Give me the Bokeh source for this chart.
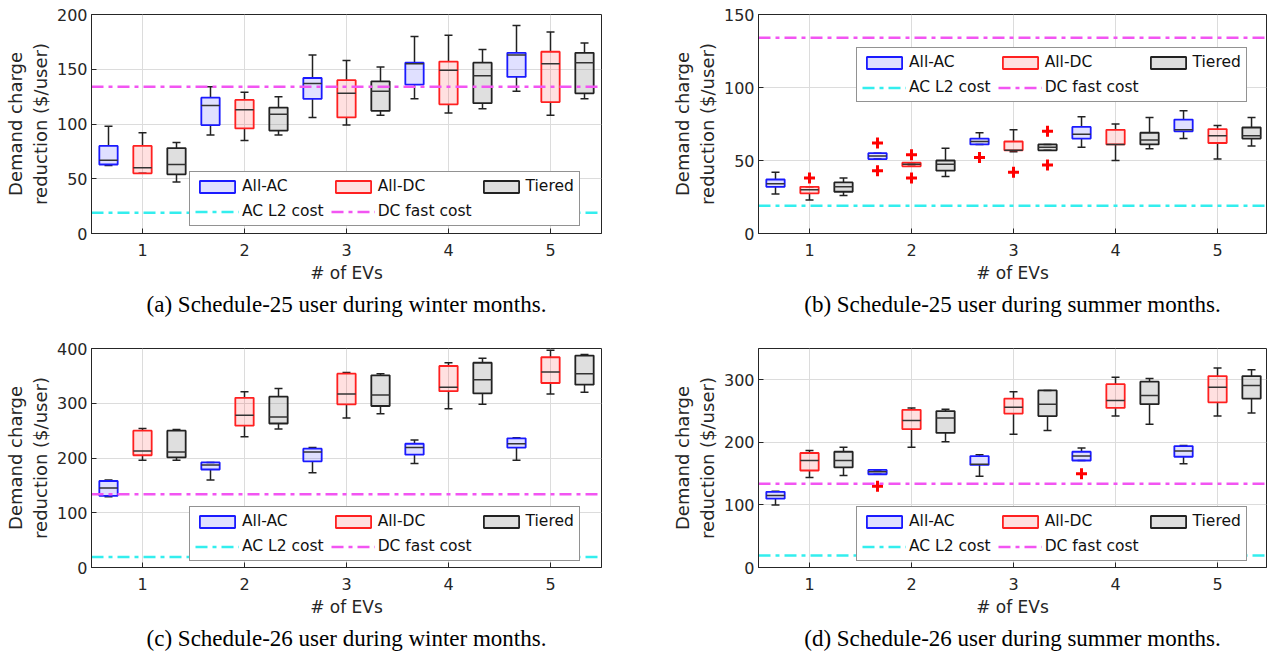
from bokeh.plotting import figure
from bokeh.models import Legend, LegendItem, FixedTicker, Range1d, ColumnDataSource
from bokeh.layouts import column, row
from bokeh.embed import file_html
from bokeh.resources import INLINE

n_evs = [1, 2, 3, 4, 5]
series_names = ["All-AC", "All-DC", "Tiered"]
ac_l2_cost = 19
dc_fast_cost = 134

# (a) Schedule-25 winter
a_ac_lo = [62, 90, 106, 123, 130]
a_ac_q1 = [63, 99, 123, 136, 143]
a_ac_med = [67, 117, 137, 155, 163]
a_ac_q3 = [80, 124, 142, 156, 165]
a_ac_hi = [98, 134, 163, 180, 190]
a_dc_lo = [55, 85, 99, 110, 108]
a_dc_q1 = [55, 96, 106, 118, 120]
a_dc_med = [60, 113, 128, 149, 155]
a_dc_q3 = [80, 122, 140, 157, 166]
a_dc_hi = [92, 129, 158, 181, 184]
a_ti_lo = [47, 90, 108, 114, 123]
a_ti_q1 = [54, 94, 112, 119, 128]
a_ti_med = [63, 109, 130, 144, 156]
a_ti_q3 = [78, 115, 139, 156, 165]
a_ti_hi = [83, 125, 152, 168, 174]

# (b) Schedule-25 summer
b_ac_lo = [27, 51, 61, 59, 65]
b_ac_q1 = [32, 51, 61, 65, 70]
b_ac_med = [34, 53, 63, 68, 71]
b_ac_q3 = [37, 55, 65, 73, 78]
b_ac_hi = [42, 55, 69, 80, 84]
b_dc_lo = [23, 46, 56, 50, 51]
b_dc_q1 = [27.5, 46, 57, 61, 62]
b_dc_med = [30, 47.5, 57, 61, 67]
b_dc_q3 = [32, 48.5, 63, 71, 71.5]
b_dc_hi = [32, 48.5, 71, 75, 74]
b_ti_lo = [26, 39, 57, 58, 60]
b_ti_q1 = [28.6, 43, 57, 61, 65]
b_ti_med = [32, 47.4, 59, 64, 67]
b_ti_q3 = [35, 50, 61, 69, 72.6]
b_ti_hi = [38, 58.4, 61, 79.5, 79.5]
b_out_n = [1, 2, 2, 2, 2, 3, 3, 3, 3]
b_out_s = [1, 0, 0, 1, 1, 0, 1, 2, 2]
b_out_v = [38, 62, 43, 54, 38, 52, 42, 70, 47]

# (c) Schedule-26 winter
c_ac_lo = [129, 160, 173, 190, 196]
c_ac_q1 = [131, 179, 194, 206, 219]
c_ac_med = [145, 187, 211, 219, 226]
c_ac_q3 = [158, 192, 217, 226, 236]
c_ac_hi = [160, 192, 219, 233, 237]
c_dc_lo = [196, 239, 273, 290, 317]
c_dc_q1 = [205, 259, 298, 322, 337]
c_dc_med = [213, 278, 317, 329, 357]
c_dc_q3 = [250, 310, 354, 368, 384]
c_dc_hi = [254, 321, 356, 374, 397]
c_ti_lo = [196, 253, 281, 298, 320]
c_ti_q1 = [201, 263, 295, 318, 334]
c_ti_med = [211, 275, 315, 343, 354]
c_ti_q3 = [250, 312, 351, 374, 387]
c_ti_hi = [252, 327, 354, 382, 389]

# (d) Schedule-26 summer
d_ac_lo = [100, 149, 146, 171, 166]
d_ac_q1 = [110, 149, 164, 171, 177]
d_ac_med = [115, 153, 165, 178, 186]
d_ac_q3 = [121, 156, 178, 185, 194]
d_ac_hi = [122, 156, 180, 191, 195]
d_dc_lo = [144, 192, 213, 242, 242]
d_dc_q1 = [155, 221, 246, 255, 264]
d_dc_med = [171, 235, 256, 267, 288]
d_dc_q3 = [183, 252, 270, 293, 306]
d_dc_hi = [187, 255, 281, 304, 319]
d_ti_lo = [147, 201, 219, 229, 247]
d_ti_q1 = [160, 215, 242, 261, 270]
d_ti_med = [171, 239, 261, 275, 291]
d_ti_q3 = [185, 250, 283, 297, 306]
d_ti_hi = [192, 253, 283, 302, 316]
d_out_n = [2, 4]
d_out_s = [0, 0]
d_out_v = [130, 150]

OFFSETS = [-1 / 3, 0, 1 / 3]
BOX_W = 0.18
EDGE = ["#1a1aff", "#ff2020", "#222222"]
FILL = ["#0000ff", "#ff0000", "#808080"]
FILL_ALPHA = [0.12, 0.12, 0.25]
AX_COLOR = "#262626"
SANS = "DejaVu Sans"


def make_panel(stats, out, y_end, y_ticks, caption, left_col, top_row, legend_xy):
    if left_col:
        x_end, fw, mbl, mbr = 5.5, 510, 91, 32
    else:
        x_end, fw, mbl, mbr = 5.48, 508, 125, 1
    if top_row:
        mbt, mbb = 14, 98
    else:
        mbt, mbb = 17, 95
    p = figure(frame_width=fw, frame_height=219, x_range=Range1d(0.5, x_end),
               y_range=Range1d(0, y_end), output_backend="svg", toolbar_location=None,
               min_border_left=mbl, min_border_right=mbr, min_border_top=mbt,
               min_border_bottom=mbb, title_location="below", background_fill_color="white",
               border_fill_color="white")
    p.outline_line_color = AX_COLOR
    p.outline_line_width = 1
    p.xaxis.ticker = FixedTicker(ticks=n_evs)
    p.yaxis.ticker = FixedTicker(ticks=y_ticks)
    p.xaxis.axis_label = "# of EVs"
    p.yaxis.axis_label = "Demand charge\nreduction ($/user)"
    for ax in [p.xaxis[0], p.yaxis[0]]:
        ax.major_tick_in = 5
        ax.major_tick_out = 0
        ax.minor_tick_line_color = None
        ax.axis_line_color = AX_COLOR
        ax.major_tick_line_color = AX_COLOR
        ax.major_label_text_font = SANS
        ax.major_label_text_font_size = "16px"
        ax.major_label_text_color = AX_COLOR
        ax.axis_label_text_font = SANS
        ax.axis_label_text_font_style = "normal"
        ax.axis_label_text_color = AX_COLOR
    p.xaxis.axis_label_text_font_size = "17px"
    p.yaxis.axis_label_text_font_size = "18px"
    p.xaxis.major_label_standoff = 10
    p.xaxis.axis_label_standoff = 4
    p.yaxis.major_label_standoff = 4
    p.yaxis.axis_label_standoff = 3
    p.xgrid.ticker = FixedTicker(ticks=n_evs)
    p.ygrid.ticker = FixedTicker(ticks=y_ticks)
    p.grid.grid_line_color = "#dcdcdc"
    p.grid.grid_line_width = 1

    box_renderers = []
    for s in range(3):
        lo, q1, med, q3, hi = stats[s]
        xs = [n + OFFSETS[s] for n in n_evs]
        src = ColumnDataSource(dict(x=xs, lo=lo, q1=q1, med=med, q3=q3, hi=hi,
                                    xl=[x - BOX_W / 2 for x in xs],
                                    xr=[x + BOX_W / 2 for x in xs]))
        p.segment(x0="x", y0="q3", x1="x", y1="hi", source=src, line_color="#222222",
                  line_width=1.5)
        p.segment(x0="x", y0="lo", x1="x", y1="q1", source=src, line_color="#222222",
                  line_width=1.5)
        p.scatter(x="x", y="hi", source=src, marker="dash", size=8, line_color="#222222",
                  line_width=1.5)
        p.scatter(x="x", y="lo", source=src, marker="dash", size=8, line_color="#222222",
                  line_width=1.5)
        r = p.vbar(x="x", bottom="q1", top="q3", width=BOX_W, source=src,
                   fill_color=FILL[s], fill_alpha=FILL_ALPHA[s], line_color=EDGE[s],
                   line_width=1.8)
        p.segment(x0="xl", y0="med", x1="xr", y1="med", source=src, line_color="#333333",
                  line_width=1.5)
        box_renderers.append(r)

    if out is not None:
        on, os_, ov = out
        ox = [n + OFFSETS[s] for n, s in zip(on, os_)]
        p.scatter(x=ox, y=ov, marker="cross", size=11, line_color="#ff0000", line_width=3)

    r_ac = p.line(x=[0.5, x_end], y=[ac_l2_cost, ac_l2_cost], line_color="#33eeee",
                  line_width=2.5, line_dash="12 5 4 5")
    r_dc = p.line(x=[0.5, x_end], y=[dc_fast_cost, dc_fast_cost], line_color="#f255f2",
                  line_width=2.5, line_dash="12 5 4 5")

    legend = Legend(items=[
        LegendItem(label=series_names[0], renderers=[box_renderers[0]]),
        LegendItem(label=series_names[1], renderers=[box_renderers[1]]),
        LegendItem(label=series_names[2], renderers=[box_renderers[2]]),
        LegendItem(label="AC L2 cost", renderers=[r_ac]),
        LegendItem(label="DC fast cost", renderers=[r_dc]),
    ], ncols=3, orientation="horizontal", location=legend_xy)
    legend.glyph_width = 44
    legend.glyph_height = 15
    legend.label_standoff = 3
    legend.spacing = 7
    legend.padding = 5
    legend.margin = 0
    legend.label_text_font = SANS
    legend.label_text_font_size = "15.5px"
    legend.label_text_color = "#111111"
    legend.border_line_color = AX_COLOR
    legend.border_line_width = 1
    legend.background_fill_color = "white"
    legend.background_fill_alpha = 1
    p.add_layout(legend, "center")

    p.title.text = caption
    p.title.align = "center"
    p.title.text_font = "Liberation Serif"
    p.title.text_font_size = "23px"
    p.title.text_font_style = "normal"
    p.title.text_color = "black"
    p.title.standoff = 8
    return p


pa = make_panel([(a_ac_lo, a_ac_q1, a_ac_med, a_ac_q3, a_ac_hi),
                 (a_dc_lo, a_dc_q1, a_dc_med, a_dc_q3, a_dc_hi),
                 (a_ti_lo, a_ti_q1, a_ti_med, a_ti_q3, a_ti_hi)],
                None, 200, [0, 50, 100, 150, 200],
                "(a) Schedule-25 user during winter months.", True, True, (98, 7))
pb = make_panel([(b_ac_lo, b_ac_q1, b_ac_med, b_ac_q3, b_ac_hi),
                 (b_dc_lo, b_dc_q1, b_dc_med, b_dc_q3, b_dc_hi),
                 (b_ti_lo, b_ti_q1, b_ti_med, b_ti_q3, b_ti_hi)],
                (b_out_n, b_out_s, b_out_v), 150, [0, 50, 100, 150],
                "(b) Schedule-25 user during summer months.", False, True, (98, 131))
pc = make_panel([(c_ac_lo, c_ac_q1, c_ac_med, c_ac_q3, c_ac_hi),
                 (c_dc_lo, c_dc_q1, c_dc_med, c_dc_q3, c_dc_hi),
                 (c_ti_lo, c_ti_q1, c_ti_med, c_ti_q3, c_ti_hi)],
                None, 400, [0, 100, 200, 300, 400],
                "(c) Schedule-26 user during winter months.", True, False, (98, 6))
pd_ = make_panel([(d_ac_lo, d_ac_q1, d_ac_med, d_ac_q3, d_ac_hi),
                  (d_dc_lo, d_dc_q1, d_dc_med, d_dc_q3, d_dc_hi),
                  (d_ti_lo, d_ti_q1, d_ti_med, d_ti_q3, d_ti_hi)],
                 (d_out_n, d_out_s, d_out_v), 350, [0, 100, 200, 300],
                 "(d) Schedule-26 user during summer months.", False, False, (98, 6))

layout = column(row(pa, pb), row(pc, pd_))
open("out.html", "w").write(file_html(layout, INLINE))
